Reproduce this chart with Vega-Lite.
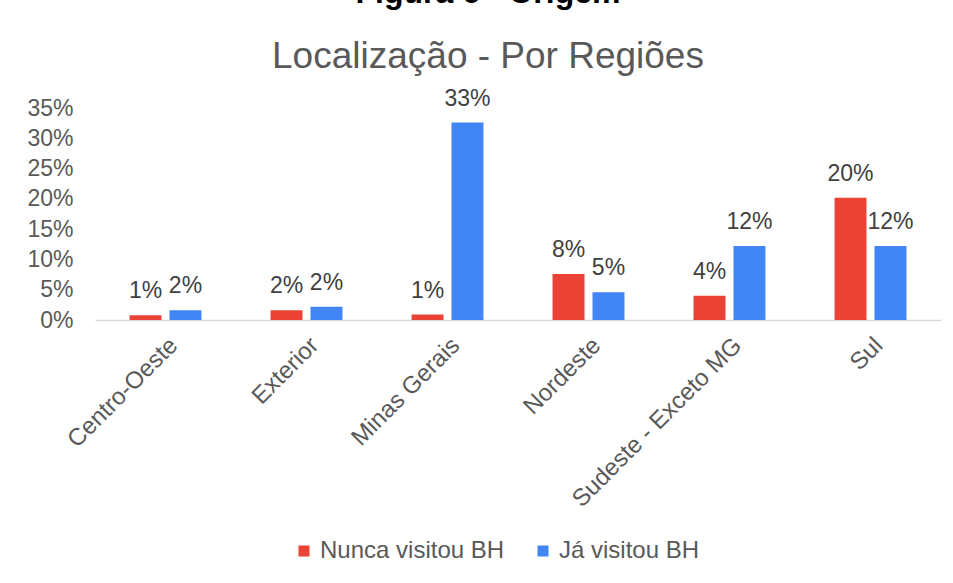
{
  "$schema": "https://vega.github.io/schema/vega-lite/v6.json",
  "autosize": "none",
  "width": 846,
  "height": 212,
  "padding": {"left": 95, "top": 108, "right": 12, "bottom": 263},
  "background": "white",
  "config": {
    "font": "Liberation Sans",
    "view": {"stroke": null}
  },
  "title": {
    "text": "Figura 6 - Origem",
    "subtitle": "Localização - Por Regiões",
    "fontSize": 32,
    "fontWeight": "bold",
    "color": "#000000",
    "subtitleFontSize": 37,
    "subtitleColor": "#595959",
    "subtitleFontWeight": "normal",
    "subtitlePadding": 29,
    "anchor": "middle",
    "dx": -30,
    "offset": 12
  },
  "data": {
    "values": [
      {"regiao": "Centro-Oeste", "grupo": "Nunca visitou BH", "valor": 0.008},
      {"regiao": "Centro-Oeste", "grupo": "Já visitou BH", "valor": 0.016},
      {"regiao": "Exterior", "grupo": "Nunca visitou BH", "valor": 0.016},
      {"regiao": "Exterior", "grupo": "Já visitou BH", "valor": 0.022},
      {"regiao": "Minas Gerais", "grupo": "Nunca visitou BH", "valor": 0.009},
      {"regiao": "Minas Gerais", "grupo": "Já visitou BH", "valor": 0.326},
      {"regiao": "Nordeste", "grupo": "Nunca visitou BH", "valor": 0.076},
      {"regiao": "Nordeste", "grupo": "Já visitou BH", "valor": 0.046},
      {"regiao": "Sudeste - Exceto MG", "grupo": "Nunca visitou BH", "valor": 0.040},
      {"regiao": "Sudeste - Exceto MG", "grupo": "Já visitou BH", "valor": 0.122},
      {"regiao": "Sul", "grupo": "Nunca visitou BH", "valor": 0.202},
      {"regiao": "Sul", "grupo": "Já visitou BH", "valor": 0.122}
    ]
  },
  "encoding": {
    "x": {
      "field": "regiao",
      "type": "nominal",
      "sort": null,
      "scale": {"paddingInner": 0.49, "paddingOuter": 0.245},
      "axis": {
        "title": null,
        "labelAngle": -45,
        "labelFontSize": 24,
        "labelColor": "#595959",
        "labelPadding": 13,
        "labelLimit": 0,
        "ticks": false,
        "domainColor": "#d9d9d9",
        "domainWidth": 1.5
      }
    },
    "xOffset": {
      "field": "grupo",
      "type": "nominal",
      "sort": ["Nunca visitou BH", "Já visitou BH"],
      "scale": {"paddingInner": 0.2, "paddingOuter": 0}
    },
    "y": {
      "field": "valor",
      "type": "quantitative",
      "scale": {"domain": [0, 0.35], "nice": false},
      "axis": {
        "title": null,
        "values": [0, 0.05, 0.1, 0.15, 0.2, 0.25, 0.3, 0.35],
        "format": ".0%",
        "labelFontSize": 23,
        "labelColor": "#595959",
        "labelPadding": 22,
        "ticks": false,
        "domain": false,
        "grid": false
      }
    },
    "color": {
      "field": "grupo",
      "type": "nominal",
      "sort": ["Nunca visitou BH", "Já visitou BH"],
      "scale": {"domain": ["Nunca visitou BH", "Já visitou BH"], "range": ["#EA4335", "#4285F4"]},
      "legend": {
        "title": null,
        "orient": "none",
        "direction": "horizontal",
        "legendX": 197,
        "legendY": 431,
        "symbolType": "square",
        "symbolSize": 121,
        "symbolStrokeWidth": 0,
        "labelFontSize": 24,
        "labelColor": "#595959",
        "labelOffset": 4,
        "labelLimit": 0,
        "columnPadding": 26
      }
    }
  },
  "layer": [
    {"mark": {"type": "bar"}},
    {
      "mark": {"type": "text", "baseline": "alphabetic", "dy": -17, "fontSize": 23, "color": "#404040"},
      "encoding": {
        "text": {"field": "valor", "type": "quantitative", "format": ".0%"},
        "color": {"value": "#404040"}
      }
    }
  ]
}
